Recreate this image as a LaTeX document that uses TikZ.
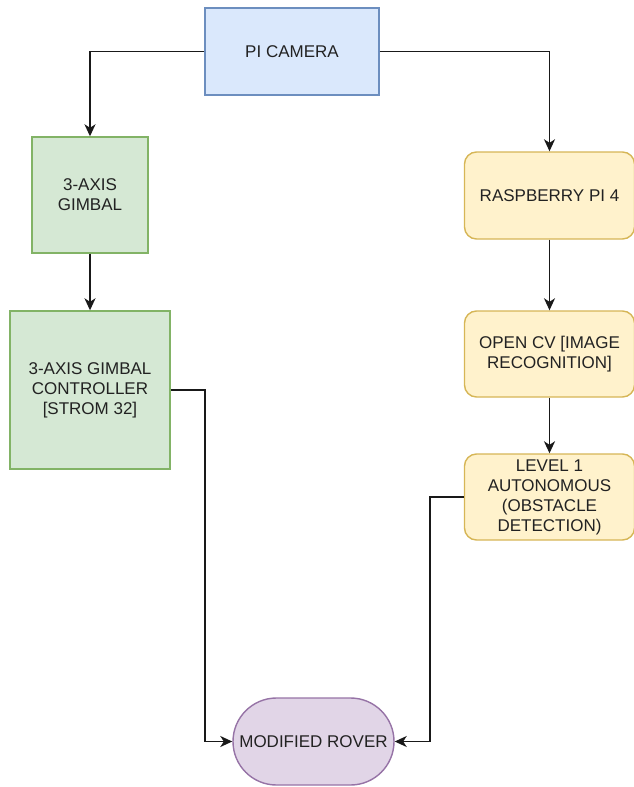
\documentclass[tikz,border=0pt]{standalone}
\usepackage{fontspec}
\setmainfont{Liberation Sans}
\usetikzlibrary{arrows.meta,shapes.misc}
\definecolor{bluefill}{HTML}{DAE8FC}\definecolor{bluedraw}{HTML}{6C8EBF}
\definecolor{greenfill}{HTML}{D5E8D4}\definecolor{greendraw}{HTML}{82B366}
\definecolor{yellowfill}{HTML}{FFF2CC}\definecolor{yellowdraw}{HTML}{D6B656}
\definecolor{purplefill}{HTML}{E1D5E7}\definecolor{purpledraw}{HTML}{9673A6}
\definecolor{txt}{HTML}{222222}
\tikzset{
  box/.style={draw, line width=1.4pt, inner sep=2pt, align=center, text=txt,
    font=\fontsize{17}{20}\selectfont},
  bluebox/.style={box, fill=bluefill, draw=bluedraw},
  greenbox/.style={box, fill=greenfill, draw=greendraw},
  yellowbox/.style={box, fill=yellowfill, draw=yellowdraw, rounded corners=12pt},
  roverbox/.style={box, fill=purplefill, draw=purpledraw, rounded rectangle, rounded rectangle arc length=180},
  arr/.style={draw=black!90, line width=1.6pt, -{Stealth[length=12pt,width=11pt,inset=3.5pt]}}
}
\begin{document}
\begin{tikzpicture}[x=1pt,y=-1pt]
\path[use as bounding box] (0,0) rectangle (634,787);
\begin{scope}
\clip (0,0) rectangle (634,787);
\node[bluebox, minimum width=174pt, minimum height=87pt] (cam) at (292,51.5) {PI CAMERA};
\node[greenbox, minimum width=116pt, minimum height=116pt] (gimbal) at (90,195) {3-AXIS\\GIMBAL};
\node[greenbox, minimum width=160pt, minimum height=158pt] (ctrl) at (90,390) {3-AXIS GIMBAL\\CONTROLLER\\{[STROM 32]}};
\node[yellowbox, minimum width=170pt, minimum height=87pt] (rpi) at (549.5,195.5) {RASPBERRY PI 4};
\node[yellowbox, minimum width=170pt, minimum height=86pt] (ocv) at (549.5,354) {OPEN CV [IMAGE\\RECOGNITION]};
\node[yellowbox, minimum width=170pt, minimum height=86pt] (lvl) at (549.5,497) {LEVEL 1\\AUTONOMOUS\\(OBSTACLE\\DETECTION)};
\node[roverbox, minimum width=161pt, minimum height=87pt, inner xsep=0pt] (rover) at (313.5,741.5) {MODIFIED ROVER};
\end{scope}
\draw[arr] (cam.west) -| (gimbal.north);
\draw[arr] (cam.east) -| (rpi.north);
\draw[arr] (gimbal.south) -- (ctrl.north);
\draw[arr] (rpi.south) -- (ocv.north);
\draw[arr] (ocv.south) -- (lvl.north);
\draw[arr] (ctrl.east) -- ++(34,0) |- (rover.west);
\draw[arr] (lvl.west) -- ++(-34,0) |- (rover.east);
\end{tikzpicture}
\end{document}
